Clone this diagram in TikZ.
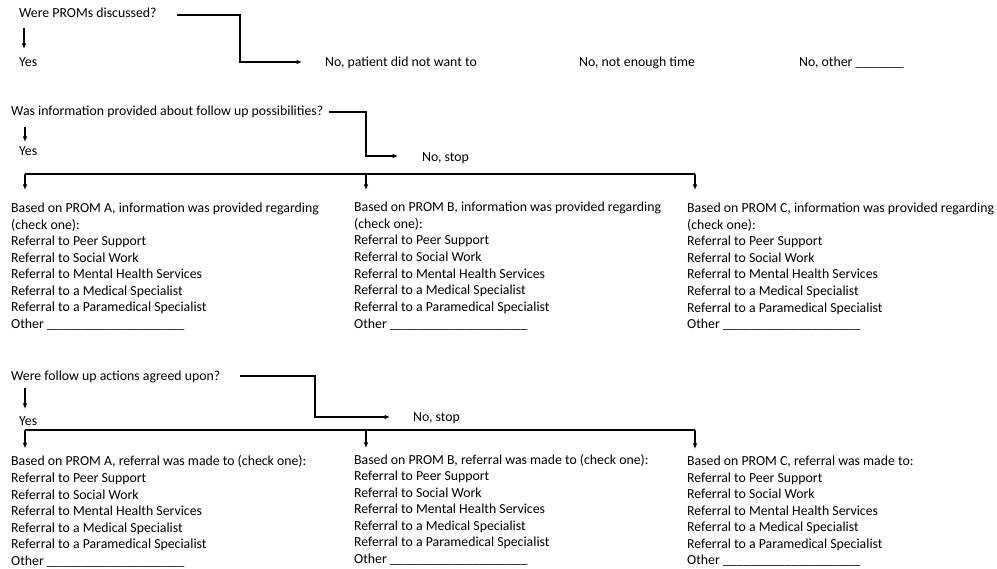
\documentclass[tikz,border=0pt]{standalone}
\usepackage{fontspec}
\setmainfont{Carlito}
\usetikzlibrary{arrows.meta,calc}
\newcommand\otherline{\_\_\_\_\_\_\_\_\_\_\_\_\_\_\_\_\_\_\_\_}
\begin{document}
\begin{tikzpicture}[x=1pt,y=-1pt,
  txt/.style={inner sep=0pt, anchor=base west, font=\fontsize{13.8}{16}\selectfont, text=black},
  conn/.style={line width=1.1pt, draw=black},
  arr/.style={conn, -{Latex[length=5.5pt,width=4.5pt]}}]
\useasboundingbox (0,0) rectangle (997,569);

% ---------- Row 1
\node[txt] (q1) at (19,18) {Were PROMs discussed?};
\node[txt] (y1) at (19,67) {Yes};
\node[txt] (n1a) at (325,67) {No, patient did not want to};
\node[txt] (n1b) at (579,67) {No, not enough time};
\node[txt] (n1c) at (799,67) {No, other \_\_\_\_\_\_\_};
\coordinate (s1) at ($(q1.base east)+(20,-3)$);
\coordinate (e1) at ($(n1a.base west)+(-23,-5)$);
\draw[arr] (s1) -- (240,15) -- (240,62) -- (e1);
\coordinate (d1s) at ($(q1.base west)+(5,10)$);
\coordinate (d1e) at ($(y1.base west)+(5,-18)$);
\draw[arr] (d1s) -- (d1e);

% ---------- Row 2
\node[txt] (q2) at (11,116) {Was information provided about follow up possibilities?};
\node[txt] (y2) at (19,156) {Yes};
\node[txt] (n2) at (422,162) {No, stop};
\coordinate (s2) at ($(q2.base east)+(5,-4)$);
\coordinate (e2) at ($(n2.base west)+(-24,-6)$);
\draw[arr] (s2) -- (366,112) -- (366,156) -- (e2);
\coordinate (d2s) at ($(q2.base west)+(14,11)$);
\coordinate (d2e) at ($(y2.base west)+(6,-14)$);
\draw[arr] (d2s) -- (d2e);

\foreach \t [count=\i] in {{Based on PROM A, information was provided regarding},{(check one):},{Referral to Peer Support},{Referral to Social Work},{Referral to Mental Health Services},{Referral to a Medical Specialist},{Referral to a Paramedical Specialist},{Other \otherline}}
  \node[txt] (iA\i) at (11,{212.5+(\i-1)*16.55}) {\t};
\foreach \t [count=\i] in {{Based on PROM B, information was provided regarding},{(check one):},{Referral to Peer Support},{Referral to Social Work},{Referral to Mental Health Services},{Referral to a Medical Specialist},{Referral to a Paramedical Specialist},{Other \otherline}}
  \node[txt] (iB\i) at (354,{211.5+(\i-1)*16.65}) {\t};
\foreach \t [count=\i] in {{Based on PROM C, information was provided regarding},{(check one):},{Referral to Peer Support},{Referral to Social Work},{Referral to Mental Health Services},{Referral to a Medical Specialist},{Referral to a Paramedical Specialist},{Other \otherline}}
  \node[txt] (iC\i) at (687,{212.5+(\i-1)*16.6}) {\t};

\coordinate (h2a) at (25,174);
\coordinate (h2b) at (366,174);
\coordinate (h2c) at (695,174);
\draw[conn] (h2a) -- (h2c);
\draw[arr] (h2a) -- ($(iA1.base west)+(14,-22.5)$);
\draw[arr] (h2b) -- ($(iB1.base west)+(12,-21.5)$);
\draw[arr] (h2c) -- ($(iC1.base west)+(8,-22.5)$);

% ---------- Row 3
\node[txt] (q3) at (11,381) {Were follow up actions agreed upon?};
\node[txt] (y3) at (19,426) {Yes};
\node[txt] (n3) at (413,422) {No, stop};
\coordinate (s3) at ($(q3.base east)+(20,-5)$);
\coordinate (e3) at ($(n3.base west)+(-23,-5)$);
\draw[arr] (s3) -- (315,376) -- (315,417) -- (e3);
\coordinate (d3s) at ($(q3.base west)+(14,7)$);
\coordinate (d3e) at ($(y3.base west)+(6,-17)$);
\draw[arr] (d3s) -- (d3e);

\foreach \t [count=\i] in {{Based on PROM A, referral was made to (check one):},{Referral to Peer Support},{Referral to Social Work},{Referral to Mental Health Services},{Referral to a Medical Specialist},{Referral to a Paramedical Specialist},{Other \otherline}}
  \node[txt] (rA\i) at (11,{466+(\i-1)*16.55}) {\t};
\foreach \t [count=\i] in {{Based on PROM B, referral was made to (check one):},{Referral to Peer Support},{Referral to Social Work},{Referral to Mental Health Services},{Referral to a Medical Specialist},{Referral to a Paramedical Specialist},{Other \otherline}}
  \node[txt] (rB\i) at (354,{464.5+(\i-1)*16.5}) {\t};
\foreach \t [count=\i] in {{Based on PROM C, referral was made to:},{Referral to Peer Support},{Referral to Social Work},{Referral to Mental Health Services},{Referral to a Medical Specialist},{Referral to a Paramedical Specialist},{Other \otherline}}
  \node[txt] (rC\i) at (687,{465.5+(\i-1)*16.55}) {\t};

\coordinate (h3a) at (25,430);
\coordinate (h3b) at (366,430);
\coordinate (h3c) at (695,430);
\draw[conn] (h3a) -- (h3c);
\draw[arr] (h3a) -- ($(rA1.base west)+(14,-17.5)$);
\draw[arr] (h3b) -- ($(rB1.base west)+(12,-16.5)$);
\draw[arr] (h3c) -- ($(rC1.base west)+(8,-16.5)$);
\end{tikzpicture}
\end{document}
